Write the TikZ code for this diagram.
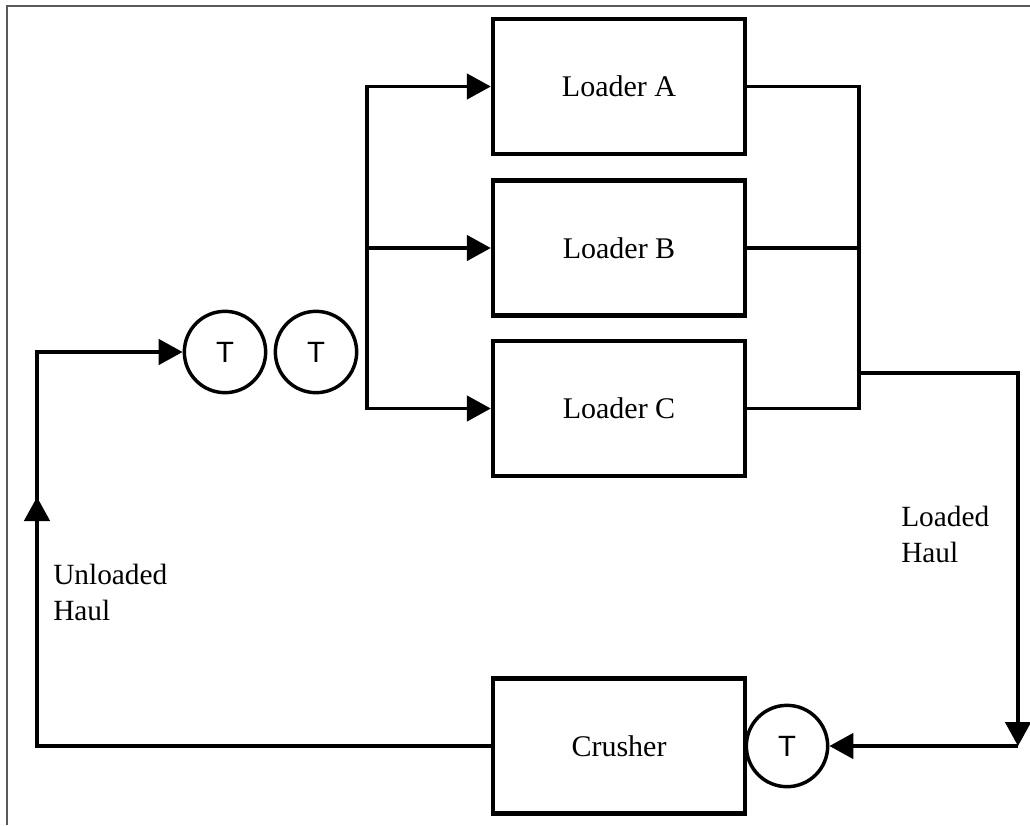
\documentclass[tikz,border=0pt]{standalone}
\usepackage{fontspec}
\setmainfont{Liberation Serif}
\newfontfamily\tfont{Liberation Sans}
\usetikzlibrary{arrows.meta}
\begin{document}
\begin{tikzpicture}[x=0.75pt,y=-0.75pt,
  >={Triangle[length=18pt,width=19pt]},
  box/.style={draw, line width=3.3pt, minimum width=189pt, minimum height=101pt, inner sep=0pt,
    font=\fontsize{22.5}{27}\selectfont},
  tcirc/.style={draw, circle, line width=2.6pt, minimum size=61pt, inner sep=0pt,
    font=\tfont\fontsize{22}{26}\selectfont},
  conn/.style={line width=2.8pt, line join=miter},
  lbl/.style={align=left, inner sep=0pt, font=\fontsize{22}{27}\selectfont},
  frame/.style={draw=gray!70!black, line width=1.6pt}]
\useasboundingbox (0,0) rectangle (1030,825);
\draw[frame] (7,825) -- (7,6) -- (1030,6);

\node[box] (A) at (619,86.5) {Loader A};
\node[box] (B) at (619,248) {Loader B};
\node[box] (C) at (619,408.5) {Loader C};
\node[box] (Cr) at (619,746) {Crusher};
\node[tcirc] (T1) at (225,352) {T};
\node[tcirc] (T2) at (316,352) {T};
\node[tcirc] (T3) at (787,746) {T};

\coordinate (lx) at (367,0);
\coordinate (rx) at (859,0);
\draw[conn,<->] (A.west) -- (lx |- A.west) -- (lx |- C.west) -- (C.west);
\draw[conn,->] (lx |- B.west) -- (B.west);
\draw[conn] (A.east) -- (rx |- A.east) -- (rx |- C.east) -- (C.east);
\draw[conn] (B.east) -- (rx |- B.east);

\coordinate (ro) at (859,373);
\coordinate (rt) at (1018,373);
\coordinate (corner) at (1018,746);
\draw[conn,->] (ro) -- (rt) -- (corner);
\draw[conn,->] (corner) -- (T3.east);

\coordinate (bl) at (37,746);
\coordinate (tl) at (37,352);
\coordinate (mid) at (37,497);
\draw[conn,->] (Cr.west) -- (bl) -- (tl) -- (T1.west);
\draw[conn,->] (bl) -- (mid);

\node[lbl, anchor=north west] (ul) at (53,564) {Unloaded\\Haul};
\node[lbl, anchor=north west] (ll) at (901,506) {Loaded\\Haul};
\end{tikzpicture}
\end{document}
